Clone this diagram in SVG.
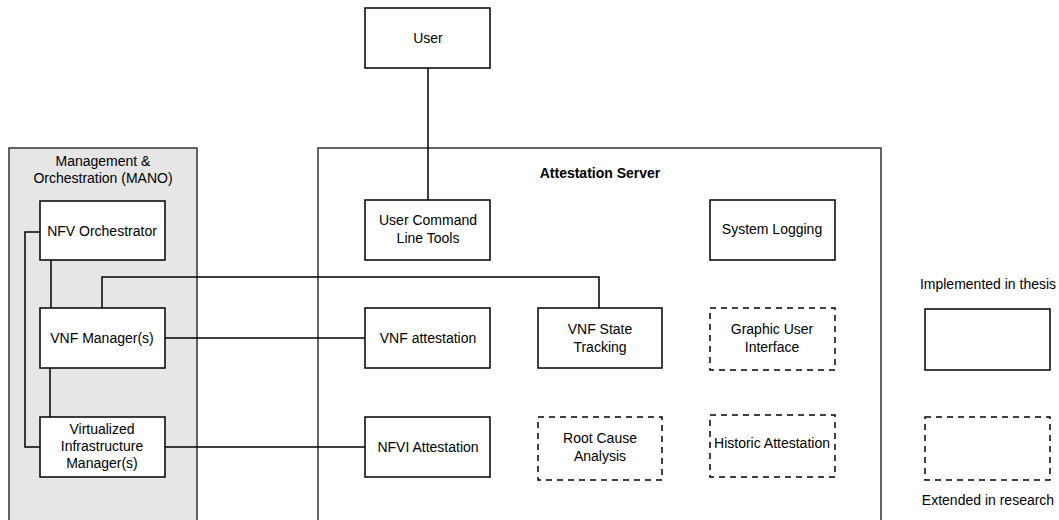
<svg xmlns="http://www.w3.org/2000/svg" width="1059" height="520" viewBox="0 0 1059 520">
<style>
.box{fill:#fff;stroke:#000;stroke-width:1.5}
.dash{fill:#fff;stroke:#000;stroke-width:1.5;stroke-dasharray:6 5}
.t{font-family:"Liberation Sans",Arial,sans-serif;font-size:14px;fill:#000;text-anchor:middle}
.b{font-weight:bold}
.conn{fill:none;stroke:#000;stroke-width:1.5}
</style>
<rect width="1059" height="520" fill="#fff"/>
<g id="mano">
<rect x="9" y="148" width="188" height="380" fill="#e6e6e6" stroke="#333" stroke-width="1.5"/>
<text class="t" x="103" y="166">Management &amp;</text>
<text class="t" x="103" y="183">Orchestration (MANO)</text>
</g>
<g id="attestation-server">
<rect x="318" y="148" width="563" height="380" fill="#fff" stroke="#333" stroke-width="1.5"/>
<text class="t b" x="600" y="178">Attestation Server</text>
</g>
<g id="connectors">
<path class="conn" d="M428 68V200"/>
<path class="conn" d="M51 260V308"/>
<path class="conn" d="M50 368V417"/>
<path class="conn" d="M40 232H25V447H40"/>
<path class="conn" d="M102 308V277H599V308"/>
<path class="conn" d="M165 338H365"/>
<path class="conn" d="M165 447H365"/>
</g>
<g id="user"><rect class="box" x="365" y="8" width="125" height="60"/><text class="t" x="428" y="43">User</text></g>
<g id="nfvo"><rect class="box" x="40" y="201" width="125" height="59"/><text class="t" x="102" y="236">NFV Orchestrator</text></g>
<g id="vnfm"><rect class="box" x="40" y="308" width="125" height="60"/><text class="t" x="102" y="343">VNF Manager(s)</text></g>
<g id="vim"><rect class="box" x="40" y="417" width="125" height="60"/><text class="t" x="102" y="434">Virtualized</text><text class="t" x="102" y="451">Infrastructure</text><text class="t" x="102" y="468">Manager(s)</text></g>
<g id="cli"><rect class="box" x="365" y="200" width="125" height="60"/><text class="t" x="428" y="225">User Command</text><text class="t" x="428" y="243">Line Tools</text></g>
<g id="syslog"><rect class="box" x="710" y="200" width="125" height="60"/><text class="t" x="772" y="234">System Logging</text></g>
<g id="vnf-att"><rect class="box" x="365" y="308" width="125" height="60"/><text class="t" x="428" y="343">VNF attestation</text></g>
<g id="vnf-state"><rect class="box" x="538" y="308" width="124" height="60"/><text class="t" x="600" y="334">VNF State</text><text class="t" x="600" y="352">Tracking</text></g>
<g id="gui"><rect class="dash" x="710" y="308" width="125" height="62"/><text class="t" x="772" y="334">Graphic User</text><text class="t" x="772" y="352">Interface</text></g>
<g id="nfvi-att"><rect class="box" x="365" y="417" width="125" height="60"/><text class="t" x="428" y="452">NFVI Attestation</text></g>
<g id="rca"><rect class="dash" x="538" y="417" width="124" height="63"/><text class="t" x="600" y="443">Root Cause</text><text class="t" x="600" y="461">Analysis</text></g>
<g id="historic"><rect class="dash" x="710" y="415" width="125" height="62"/><text class="t" x="772" y="448">Historic Attestation</text></g>
<g id="legend-impl"><text class="t" x="988" y="289">Implemented in thesis</text><rect class="box" x="925" y="309" width="125" height="61"/></g>
<g id="legend-ext"><rect class="dash" x="925" y="417" width="125" height="63"/><text class="t" x="988" y="505">Extended in research</text></g>
</svg>
